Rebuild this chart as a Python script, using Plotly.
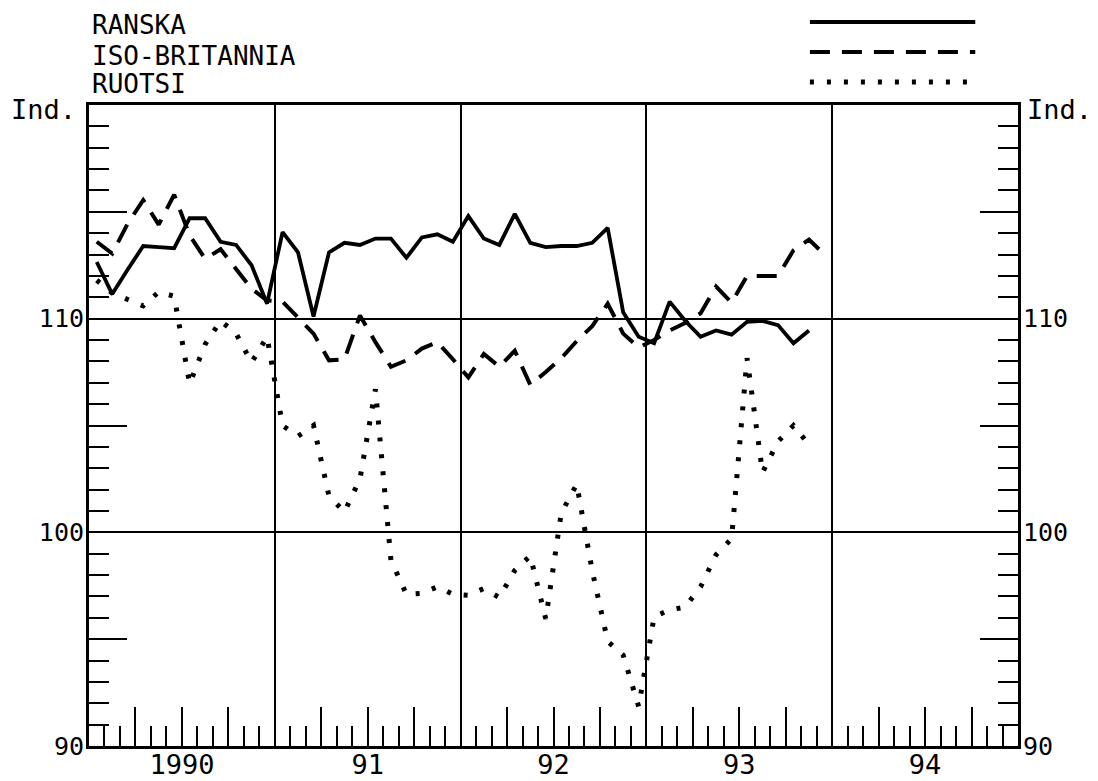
import pandas as pd
import plotly.graph_objects as go

# ---- data (monthly index values) ----
months = pd.period_range("1990-01", "1993-12", freq="M")

ranska = [112.65, 111.15, 112.3, 113.4, 113.35, 113.3, 114.7, 114.7, 113.6, 113.45, 112.5, 110.7,
          114.05, 113.1, 110.1, 113.1, 113.55, 113.45, 113.75, 113.75, 112.85, 113.8, 113.95, 113.6,
          114.8, 113.75, 113.45, 114.9, 113.55, 113.35, 113.4, 113.4, 113.55, 114.25, 110.3, 109.15,
          108.85, 110.8, 109.9, 109.15, 109.45, 109.25, 109.85, 109.9, 109.7, 108.85, 109.45]

iso_britannia = [113.6, 113.05, 114.45, 115.55, 114.4, 115.8, 113.9, 112.8, 113.25, 112.35, 111.4, 110.85,
                 110.8, 110.05, 109.3, 108.05, 108.1, 110.15, 108.9, 107.75, 108.05, 108.6, 108.9, 108.1,
                 107.25, 108.35, 107.75, 108.5, 106.9, 107.5, 108.15, 108.95, 109.65, 110.7, 109.3, 108.65,
                 109.0, 109.45, 109.8, 110.25, 111.5, 110.75, 112.0, 112.0, 112.0, 113.2, 113.7, 113.0]

ruotsi = [111.8, 111.2, 110.9, 110.6, 111.25, 111.05, 106.95, 108.8, 109.9, 109.3, 107.95, 109.15,
          105.0, 104.5, 105.0, 101.7, 100.95, 102.5, 106.7, 98.7, 97.1, 97.15, 97.45, 97.1,
          97.05, 97.37, 96.95, 98.22, 98.9, 95.95, 100.9, 102.25, 98.2, 94.9, 94.25, 91.85,
          96.05, 96.37, 96.5, 97.45, 98.95, 99.7, 108.15, 102.8, 104.25, 105.0, 104.1]

series_names = ["RANSKA", "ISO-BRITANNIA", "RUOTSI"]
year_labels = ["1990", "91", "92", "93", "94"]
year_starts = [1990, 1991, 1992, 1993, 1994, 1995]
y_labels = [90, 100, 110]
y_mid_ticks = [95, 105, 115]
unit_label = "Ind."

# x position: middle of each month, in decimal years
x = [m.year + (m.month - 0.5) / 12 for m in months]

FONT = "DejaVu Sans Mono"
BLACK = "black"

fig = go.Figure()
styles = [dict(width=3.8, dash="solid"),
          dict(width=4, dash="20px,12px"),
          dict(width=5, dash="4px,13px")]
for name, vals, st in zip(series_names, [ranska, iso_britannia, ruotsi], styles):
    fig.add_trace(go.Scatter(x=x[:len(vals)], y=vals, mode="lines", name=name,
                             line=dict(color=BLACK, width=st["width"], dash=st["dash"]),
                             showlegend=False, hoverinfo="skip"))

xr = [year_starts[0], year_starts[-1]]
yr = [90, 120]
quarter_ticks = [y + q for y in year_starts[:-1] for q in (0.25, 0.5, 0.75)]

fig.update_layout(
    width=1098, height=781,
    margin=dict(l=89, r=80, t=105, b=35, pad=0, autoexpand=False),
    plot_bgcolor="white", paper_bgcolor="white",
    font=dict(family=FONT, color=BLACK),
    showlegend=False,
    xaxis=dict(range=xr, tickmode="array", tickvals=quarter_ticks, ticks="inside",
               ticklen=39, tickwidth=2, tickcolor=BLACK, showticklabels=False,
               showgrid=False, zeroline=False, showline=True, linewidth=3,
               linecolor=BLACK, mirror=True, automargin=False,
               minor=dict(tickmode="linear", tick0=1990, dtick=1 / 12, ticks="inside",
                          ticklen=20, tickwidth=2, tickcolor=BLACK, showgrid=False)),
    xaxis2=dict(range=xr, overlaying="x", side="bottom", anchor="y",
                tickmode="array", tickvals=year_starts[1:-1], ticks="",
                showticklabels=False, showgrid=True, gridcolor=BLACK, gridwidth=2,
                zeroline=False, showline=False, automargin=False),
    xaxis3=dict(range=xr, overlaying="x", side="bottom", anchor="y",
                tickmode="array", tickvals=[y + 0.5 for y in year_starts[:-1]],
                ticktext=year_labels, ticks="", showgrid=False, zeroline=False,
                showline=False, tickfont=dict(family=FONT, size=27, color=BLACK),
                ticklabelstandoff=0, automargin=False),
    yaxis=dict(range=yr, tickmode="array", tickvals=y_mid_ticks, ticks="inside",
               ticklen=38, tickwidth=2, tickcolor=BLACK, showticklabels=False,
               showgrid=False, zeroline=False, showline=True, linewidth=3,
               linecolor=BLACK, mirror="ticks", automargin=False,
               minor=dict(tickmode="linear", tick0=90, dtick=1, ticks="inside",
                          ticklen=20, tickwidth=2, tickcolor=BLACK, showgrid=False)),
    yaxis2=dict(range=yr, overlaying="y", side="left", anchor="x",
                tickmode="array", tickvals=y_labels, ticktext=[str(v) for v in y_labels],
                ticks="", showgrid=True, gridcolor=BLACK, gridwidth=2,
                zeroline=False, showline=False, automargin=False,
                tickfont=dict(family=FONT, size=25, color=BLACK), ticklabelstandoff=4),
    yaxis3=dict(range=yr, overlaying="y", side="right", anchor="x",
                tickmode="array", tickvals=y_labels, ticktext=[str(v) for v in y_labels],
                ticks="", showgrid=False, zeroline=False, showline=False, automargin=False,
                tickfont=dict(family=FONT, size=25, color=BLACK), ticklabelstandoff=4),
)

# attach invisible helper traces so overlay axes render
for xa, ya in [("x2", "y2"), ("x3", "y3")]:
    fig.add_trace(go.Scatter(x=[xr[0]], y=[yr[0]], xaxis=xa, yaxis=ya, mode="markers",
                             marker=dict(opacity=0), showlegend=False, hoverinfo="skip"))

# unit labels
fig.add_annotation(xref="paper", yref="paper", x=-0.012, y=0.993, xanchor="right",
                   yanchor="middle", text=unit_label, showarrow=False,
                   font=dict(family=FONT, size=27, color=BLACK))
fig.add_annotation(xref="paper", yref="paper", x=1.007, y=0.993, xanchor="left",
                   yanchor="middle", text=unit_label, showarrow=False,
                   font=dict(family=FONT, size=27, color=BLACK))

# legend: labels on the left, line samples on the right
leg_text_y = [1.1248, 1.0764, 1.0328]
leg_line_y = [1.1295, 1.0827, 1.0359]
for name, ty, ly, st in zip(series_names, leg_text_y, leg_line_y, styles):
    fig.add_annotation(xref="paper", yref="paper", x=0.001, y=ty, xanchor="left",
                       yanchor="middle", text=name, showarrow=False,
                       font=dict(family=FONT, size=26, color=BLACK))
    fig.add_shape(type="line", xref="paper", yref="paper", x0=0.776, x1=0.954,
                  y0=ly, y1=ly, line=dict(color=BLACK, width=st["width"], dash=st["dash"]))

fig.write_html("out.html", config={"displayModeBar": False},
               post_script="document.body.style.margin='0';document.body.style.padding='0';")
